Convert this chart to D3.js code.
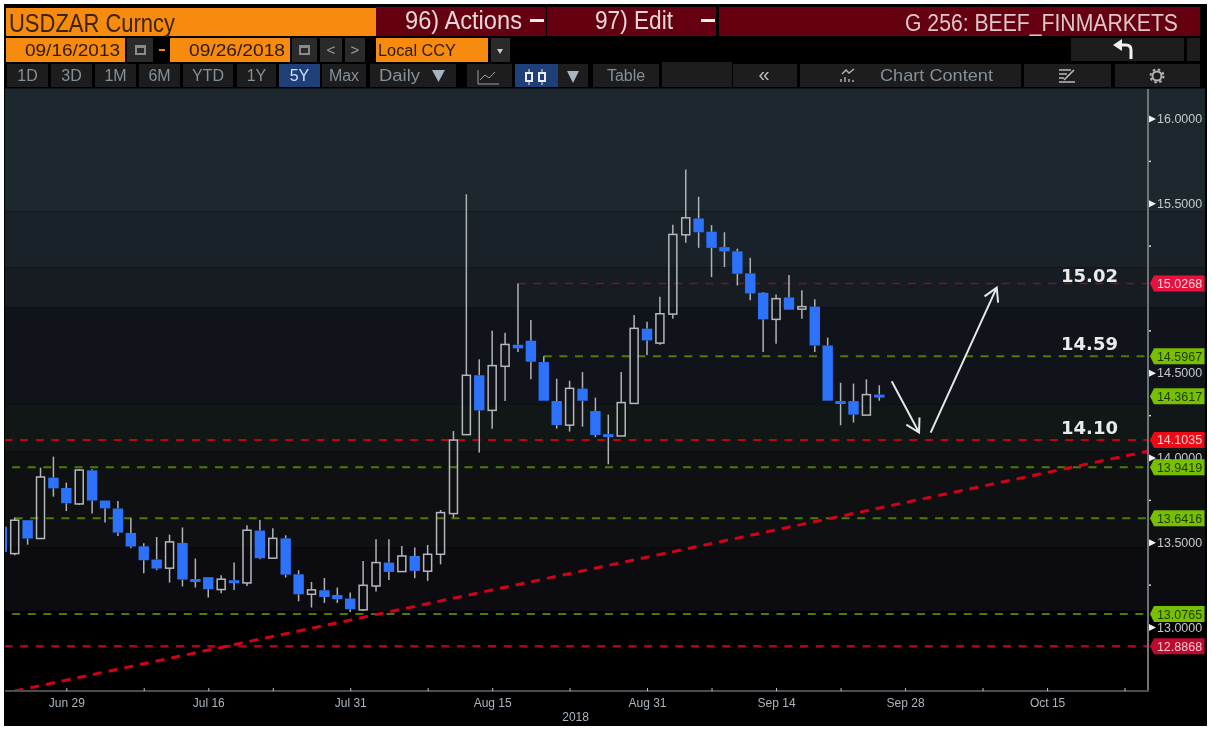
<html><head>
<title>USDZAR Curncy</title>
<script src="https://d3js.org/d3.v7.min.js"></script>
<style>
  body { margin: 0; background: #fff; }
  svg { display: block; filter: blur(0.45px); }
  text { font-family: "Liberation Sans", sans-serif; }
  .narrow { font-family: "Liberation Sans Narrow", "Liberation Sans", sans-serif; }
</style>
</head>
<body>
<svg id="chart" width="1212" height="732"></svg>

<script>
// candles, one per trading day starting Jun 22 2018
const opens = [13.592,13.433,13.630,13.522,13.881,13.820,13.726,13.924,13.746,13.699,13.555,13.476,13.398,13.347,13.496,13.283,13.294,13.221,13.276,13.260,13.569,13.406,13.523,13.311,13.193,13.217,13.189,13.168,13.101,13.242,13.380,13.327,13.419,13.329,13.429,13.669,14.135,14.485,14.278,14.538,14.665,14.689,14.563,14.333,14.191,14.406,14.274,14.138,14.127,14.319,14.760,14.675,14.846,15.314,15.410,15.332,15.241,15.216,15.086,14.972,14.815,14.944,14.875,14.890,14.661,14.333,14.333,14.250,14.371];
const closes = [13.443,13.630,13.522,13.885,13.818,13.730,13.926,13.746,13.700,13.557,13.475,13.394,13.345,13.502,13.280,13.276,13.223,13.282,13.260,13.571,13.406,13.523,13.309,13.193,13.219,13.177,13.164,13.105,13.246,13.380,13.325,13.419,13.331,13.429,13.675,14.103,14.485,14.278,14.542,14.667,14.644,14.565,14.335,14.191,14.408,14.335,14.133,14.125,14.324,14.762,14.691,14.848,15.316,15.414,15.329,15.237,15.216,15.084,14.968,14.815,14.937,14.872,14.890,14.661,14.335,14.325,14.253,14.371,14.362];
const highs = [13.600,13.646,13.630,13.940,14.005,13.852,13.930,13.930,13.746,13.743,13.640,13.494,13.531,13.545,13.587,13.404,13.294,13.305,13.380,13.600,13.631,13.582,13.541,13.335,13.266,13.289,13.233,13.203,13.390,13.518,13.518,13.478,13.469,13.484,13.690,14.156,15.553,14.579,14.748,14.736,15.027,14.811,14.598,14.465,14.453,14.504,14.353,14.253,14.504,14.840,14.801,14.949,15.373,15.699,15.538,15.371,15.329,15.232,15.178,14.976,14.962,15.076,14.987,14.933,14.707,14.441,14.436,14.461,14.426];
const lows = [13.420,13.423,13.486,13.522,13.769,13.684,13.720,13.669,13.616,13.537,13.464,13.317,13.335,13.262,13.239,13.233,13.174,13.199,13.219,13.242,13.400,13.406,13.292,13.152,13.115,13.142,13.142,13.089,13.095,13.209,13.278,13.327,13.288,13.272,13.370,13.645,14.135,14.029,14.170,14.333,14.622,14.461,14.335,14.170,14.153,14.182,14.121,13.960,14.127,14.319,14.604,14.665,14.819,15.267,15.237,15.064,15.123,15.015,14.928,14.622,14.671,14.872,14.819,14.622,14.335,14.190,14.206,14.250,14.335];

const dayTicks = [5,16,27,38,50,60,70,81];
const dayLabels = ["Jun 29","Jul 16","Jul 31","Aug 15","Aug 31","Sep 14","Sep 28","Oct 15"];
const minorDayTicks = [11,21,33,44,55,65,76,87];

const priceTicks = [16,15.5,14.5,14,13.5,13];
const minorPriceTicks = [15.75,15.25,14.75,14.25,13.75,13.25];

const levelValues = [15.0268,14.5967,14.1035,13.9419,13.6416,13.0765,12.8868];
const levelKinds = ["faint","support","major","support","support","support","low"];
const levelStarts = [40,42,-1,0.8,1,0.8,-1];
const lastPrice = 14.3617;

const noteTexts = ["15.02","14.59","14.10"];
const notePrices = [15.035,14.634,14.139];

const trendDays = [1,88.85];
const trendPrices = [12.622,14.038];
const arrowDays = [[68.96,71.08],[71.98,77.1]];
const arrowPrices = [[14.45,14.147],[14.147,15.002]];

const bandEdges = [16.177,15.452,15.122,14.886,14.314,14.037,13.47,13.093,12.622];
const bandColors = ["#1d272e","#1a2229","#161c22","#10141a","#111616","#0e1012","#0c0c10","#000000"];

const levelStyle = {
  faint:   {stroke: "#6a1c2a", width: 1.5, tag: "#e8103c", text: "#f8d4da"},
  support: {stroke: "#4d7d00", width: 2,   tag: "#78bf00", text: "#1d3a00"},
  major:   {stroke: "#c4000c", width: 2,   tag: "#ee0a14", text: "#fbd0d0"},
  low:     {stroke: "#b00024", width: 2.5, tag: "#bd0a2e", text: "#f4c8d0"}
};

const svg = d3.select("svg#chart");
const x = d3.scaleLinear().domain([0,68]).range([1.8,879.3]);
const y = d3.scaleLinear().domain([13,16]).range([627,118.5]);
const plotLeft = 5, plotRight = 1148, plotTop = 89, plotBottom = y(12.622);

svg.append("rect").attr("x",4).attr("y",4).attr("width",1203).attr("height",722).attr("fill","#000");

// ---- header and toolbars
function box(bx,by,w,h,fill) {
  return svg.append("rect").attr("x",bx).attr("y",by).attr("width",w).attr("height",h).attr("fill",fill);
}
function label(str,lx,ly,size,color,width,anchor) {
  let t = svg.append("text").attr("class","narrow").attr("x",lx).attr("y",ly)
    .attr("font-size",size).attr("fill",color).attr("text-anchor",anchor || "start").text(str);
  if (width) t.attr("textLength",width).attr("lengthAdjust","spacingAndGlyphs");
  return t;
}
function button(bx,w,str,color,fill) {
  box(bx,64,w,23,fill || "#1d1d1d");
  if (str) label(str,bx+w/2,81,16,color || "#84909c",null,"middle");
}

box(6,8,370,28,"#f68b0f");
label("USDZAR Curncy",9,32,25,"#3b2400",166);
box(376,7,170,29,"#650010");
label("96) Actions",405,29,26,"#e6d6d8",117);
box(530,19,14,3,"#eee");
box(547,7,169,29,"#650010");
label("97) Edit",595,29,26,"#e6d6d8",78);
box(701,19,14,3,"#eee");
box(719,7,481,29,"#650010");
label("G 256: BEEF_FINMARKETS",905,31,23,"#dcc8cb",273);

box(6,38,119,24,"#f68b0f");
label("09/16/2013",25,56,16,"#2c1a00",95);
box(127,38,26,24,"#2a2a2a");
box(135,45,11,10,"#8a8a8a");
box(137,48,7,5,"#2a2a2a");
box(159,49,6,2,"#f68b0f");
box(170,38,120,24,"#f68b0f");
label("09/26/2018",189,56,16,"#2c1a00",96);
box(292,38,25,24,"#2a2a2a");
box(299,45,11,10,"#8a8a8a");
box(301,48,7,5,"#2a2a2a");
box(320,38,22,24,"#2a2a2a");
label("<",331,55,15,"#9aa0a6",null,"middle");
box(345,38,20,24,"#2a2a2a");
label(">",355,55,15,"#9aa0a6",null,"middle");
box(376,38,112,24,"#f68b0f");
label("Local CCY",378,56,16,"#2c1a00",78);
box(491,38,19,24,"#2a2a2a");
svg.append("path").attr("d","M497 49h6l-3 5z").attr("fill","#ccc");

box(1071,38,113,23,"#1d1d1d");
box(1187,38,13,23,"#1d1d1d");
svg.append("path").attr("d","M1131 59v-9q0-5-5-5h-7").attr("fill","none").attr("stroke","#f0f0f0").attr("stroke-width",3);
svg.append("path").attr("d","M1113 45l9-6v12z").attr("fill","#f0f0f0");

button(7,41,"1D"); button(51,41,"3D"); button(95,41,"1M"); button(139,41,"6M");
button(183,50,"YTD"); button(237,39,"1Y");
button(279,41,"5Y","#cfe0f5","#1f3f78");
button(322,44,"Max");
button(370,86,""); label("Daily",379,81,16,"#84909c",41);
svg.append("path").attr("d","M432 70h13l-6.5 12z").attr("fill","#a8b4bf");
button(467,45,"");
svg.append("path").attr("d","M478 70v14h21 M480 80l5-5 4 3 6-6").attr("fill","none").attr("stroke","#9aa0a6").attr("stroke-width",1);
box(515,64,43,23,"#1f3f78");
svg.append("path").attr("d","M529 69v16 M542 69v16").attr("stroke","#eee").attr("stroke-width",1);
svg.append("path").attr("d","M526 73h6v8h-6z M539 73h6v8h-6z").attr("fill","#1f3f78").attr("stroke","#eee").attr("stroke-width",2);
box(558,64,30,23,"#1d1d1d");
svg.append("path").attr("d","M567 71h12l-6 12z").attr("fill","#a8b4bf");
button(593,66,"Table");
box(662,62,70,25,"#1d1d1d");
button(733,64,"");
label("\u00ab",764,81,20,"#b8c0c8",null,"middle");
button(800,221,"");
label("Chart Content",880,81,17,"#84909c",113);
svg.append("path").attr("d","M842 74l4-4 3 3 5-4 M841 82v-3 M845 82v-5 M849 82v-3 M853 82v-2").attr("fill","none").attr("stroke","#b0b4b8").attr("stroke-width",1.4);
button(1024,87,"");
svg.append("path").attr("d","M1059 70h12 M1059 74h8 M1059 78h5 M1059 82h16 M1064 80l10-10").attr("fill","none").attr("stroke","#b8bcc0").attr("stroke-width",1.6);
button(1115,85,"");
svg.append("circle").attr("cx",1157).attr("cy",76).attr("r",4.5).attr("fill","none").attr("stroke","#b0b4b8").attr("stroke-width",2);
svg.append("circle").attr("cx",1157).attr("cy",76).attr("r",6.5).attr("fill","none").attr("stroke","#b0b4b8").attr("stroke-width",2).attr("stroke-dasharray","2.5 2.6");

// ---- banded backdrop, runs past the axis to the panel edge
bandColors.forEach(function(c,i) {
  svg.append("rect").attr("x",plotLeft).attr("width",1200)
    .attr("y",y(bandEdges[i])).attr("height",y(bandEdges[i+1])-y(bandEdges[i]))
    .attr("fill",c);
});

svg.append("clipPath").attr("id","plotclip").append("rect")
  .attr("x",plotLeft).attr("y",plotTop).attr("width",plotRight-plotLeft).attr("height",plotBottom-plotTop);
const plot = svg.append("g").attr("clip-path","url(#plotclip)");

// ---- level lines
levelValues.forEach(function(v,i) {
  let s = levelStyle[levelKinds[i]];
  plot.append("line")
    .attr("x1",x(levelStarts[i])).attr("x2",plotRight)
    .attr("y1",y(v)).attr("y2",y(v))
    .attr("stroke",s.stroke).attr("stroke-width",s.width)
    .attr("stroke-dasharray","8 7.6");
});

// ---- candles
const wickColor = "#aeb2b6", upColor = "#b4b8bc", downColor = "#2c72fb";
const candles = opens.map((o,i) => ({i:i, o:o, c:closes[i], h:highs[i], l:lows[i]}));

plot.selectAll("line.wickhi").data(candles).join("line").attr("class","wickhi")
  .attr("x1",d => x(d.i)).attr("x2",d => x(d.i))
  .attr("y1",d => y(d.h)).attr("y2",d => y(Math.max(d.o,d.c)))
  .attr("stroke",wickColor).attr("stroke-width",1.5);
plot.selectAll("line.wicklo").data(candles).join("line").attr("class","wicklo")
  .attr("x1",d => x(d.i)).attr("x2",d => x(d.i))
  .attr("y1",d => y(Math.min(d.o,d.c))).attr("y2",d => y(d.l))
  .attr("stroke",wickColor).attr("stroke-width",1.5);

plot.selectAll("rect.down").data(candles.filter(d => d.c < d.o)).join("rect").attr("class","down")
  .attr("x",d => x(d.i)-5.2).attr("width",10.4)
  .attr("y",d => y(d.o))
  .attr("height",d => Math.max(3,y(d.c)-y(d.o)))
  .attr("fill",downColor);
plot.selectAll("rect.up").data(candles.filter(d => d.c >= d.o)).join("rect").attr("class","up")
  .attr("x",d => x(d.i)-4).attr("width",8)
  .attr("y",d => y(d.c))
  .attr("height",d => Math.max(2,y(d.o)-y(d.c)))
  .attr("fill","none").attr("stroke",upColor).attr("stroke-width",1.5);

// ---- trend line and hand drawn arrows
plot.append("line")
  .attr("x1",x(trendDays[0])).attr("y1",y(trendPrices[0]))
  .attr("x2",x(trendDays[1])).attr("y2",y(trendPrices[1]))
  .attr("stroke","#d2001a").attr("stroke-width",3).attr("stroke-dasharray","9 7");

arrowDays.forEach(function(days,i) {
  let x1 = x(days[0]), y1 = y(arrowPrices[i][0]), x2 = x(days[1]), y2 = y(arrowPrices[i][1]);
  let a = Math.atan2(y2-y1,x2-x1), head = 15;
  let b1 = [x2-head*Math.cos(a-0.52), y2-head*Math.sin(a-0.52)];
  let b2 = [x2-head*Math.cos(a+0.52), y2-head*Math.sin(a+0.52)];
  plot.append("path")
    .attr("d",`M${x1},${y1}L${x2},${y2}M${b1}L${x2},${y2}L${b2}`)
    .attr("fill","none").attr("stroke","#e4e6e8").attr("stroke-width",2);
});

svg.selectAll("text.note").data(noteTexts).join("text").attr("class","note")
  .attr("x",1061).attr("y",(d,i) => y(notePrices[i]))
  .attr("font-size",18).attr("font-weight","bold")
  .style("font-family","'DejaVu Sans'")
  .attr("fill","#e8eaec").text(d => d);

// ---- axes
const yAxis = svg.append("g").attr("transform",`translate(${plotRight},0)`)
  .call(d3.axisRight(y).tickValues(priceTicks).tickFormat(d3.format(".4f")).tickSize(0).tickPadding(9));
yAxis.select(".domain").remove();
yAxis.selectAll("text").attr("font-size",12.5).style("font-family","'Liberation Sans'").attr("fill","#c4c8cc");
yAxis.selectAll(".tick").append("path").attr("d","M0,-4L8,0L0,4Z").attr("fill","#f2f2f2");

const yMinor = svg.append("g").attr("transform",`translate(${plotRight},0)`)
  .call(d3.axisRight(y).tickValues(minorPriceTicks).tickFormat("").tickSize(3));
yMinor.select(".domain").remove();
yMinor.selectAll("line").attr("stroke","#d8d8d8").attr("stroke-width",1.5);

svg.append("line").attr("x1",plotRight).attr("x2",plotRight).attr("y1",plotTop).attr("y2",plotBottom+1)
  .attr("stroke","#6c7478").attr("stroke-width",2);
svg.append("line").attr("x1",plotLeft).attr("x2",plotRight+1).attr("y1",plotBottom).attr("y2",plotBottom)
  .attr("stroke","#4c4c50").attr("stroke-width",2);

const xAxis = svg.append("g").attr("transform",`translate(0,${plotBottom})`)
  .call(d3.axisBottom(x).tickValues(dayTicks).tickFormat((d,i) => dayLabels[i]).tickSize(-3).tickPadding(7));
xAxis.select(".domain").remove();
xAxis.selectAll("text").attr("font-size",12).style("font-family","'Liberation Sans'").attr("fill","#aab4c0");
xAxis.selectAll("line").attr("stroke","#c8c8c8");

const xMinor = svg.append("g").attr("transform",`translate(0,${plotBottom})`)
  .call(d3.axisBottom(x).tickValues(minorDayTicks).tickFormat("").tickSize(-3));
xMinor.select(".domain").remove();
xMinor.selectAll("line").attr("stroke","#c8c8c8");

svg.append("text").attr("x",x(44)+6).attr("y",721).attr("text-anchor","middle")
  .attr("font-size",12).attr("fill","#aab4c0").text("2018");

// ---- price tags on the axis
function tag(v,s) {
  let ty = y(v);
  svg.append("path")
    .attr("d",`M1150,${ty}L1154,${ty-8}H1204.5V${ty+8}H1154Z`)
    .attr("fill",s.tag);
  svg.append("text").attr("x",1179.5).attr("y",ty+4.5).attr("text-anchor","middle")
    .attr("font-size",12.5).attr("fill",s.text).text(d3.format(".4f")(v));
}
levelValues.forEach((v,i) => tag(v,levelStyle[levelKinds[i]]));
tag(lastPrice,levelStyle.support);
</script>
</body></html>
